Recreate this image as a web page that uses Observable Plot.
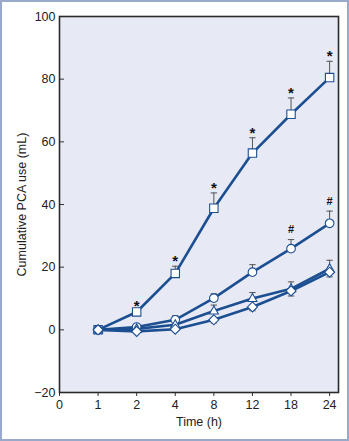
<!DOCTYPE html>
<html>
<head>
<meta charset="utf-8">
<script src="https://cdn.jsdelivr.net/npm/d3@7"></script>
<script src="https://cdn.jsdelivr.net/npm/@observablehq/plot@0.6"></script>
<style>
  html, body { margin: 0; padding: 0; background: #fff; }
  #chart svg { display: block; background: linear-gradient(#ffffff 0%, #f4f6fb 40%, #dde4f2 100%);
    outline: 2px solid #98a9c9; outline-offset: -2px; }
</style>
</head>
<body>
<div id="chart"></div>
<script>
// categories (time points, h) – evenly spaced on the axis
const times = ["0", "1", "2", "4", "8", "12", "18", "24"];
const seriesTimes = ["1", "2", "4", "8", "12", "18", "24"];

// series values (mL)
const squareVals   = [0, 5.7, 18.0, 38.8, 56.4, 68.8, 80.5];
const squareErr    = [0, 0.4, 2.3, 4.9, 4.9, 5.2, 5.2];
const circleVals   = [0, 0.9, 3.2, 10.1, 18.4, 25.9, 34.0];
const circleErr    = [0, 0.3, 1.3, 1.4, 2.4, 2.9, 3.9];
const triangleVals = [0, 0.3, 1.6, 6.0, 10.0, 13.1, 19.5];
const triangleErr  = [0, 0.3, 1.0, 1.9, 1.9, 2.2, 2.7];
const diamondVals  = [0, -0.5, 0.2, 3.2, 7.3, 12.4, 18.4];
const diamondErr   = [0, -0.3, -0.5, -1.0, -1.2, -1.6, -1.5];

// significance marks
const starTimes = ["2", "4", "8", "12", "18", "24"];
const hashTimes = ["18", "24"];

const yTicks = [-20, 0, 20, 40, 60, 80, 100];

const idx = t => times.indexOf(t);

function build(name, vals, errs, symbol) {
  return seriesTimes.map((t, i) => ({series: name, t, xi: idx(t), y: vals[i], err: errs[i], top: vals[i] + errs[i], symbol}));
}
const data = [
  ...build("square", squareVals, squareErr, "square"),
  ...build("circle", circleVals, circleErr, "circle"),
  ...build("triangle", triangleVals, triangleErr, "triangle"),
  ...build("diamond", diamondVals, diamondErr, "diamond")
];
const errData = data.filter(d => d.err !== 0);
const squares = data.filter(d => d.series === "square");
const circles = data.filter(d => d.series === "circle");
const stars = squares.filter(d => starTimes.includes(d.t));
const hashes = circles.filter(d => hashTimes.includes(d.t));

const capSymbol = {draw(ctx, size) { const r = 3.2; ctx.moveTo(-r, 0); ctx.lineTo(r, 0); }};
const diamondSym = {draw(ctx, size) { const r = 5; ctx.moveTo(0, -r); ctx.lineTo(r, 0); ctx.lineTo(0, r); ctx.lineTo(-r, 0); ctx.closePath(); }};
const triSym = {draw(ctx, size) { const r = 5; ctx.moveTo(0, -r); ctx.lineTo(r * 0.9, r * 0.6); ctx.lineTo(-r * 0.9, r * 0.6); ctx.closePath(); }};
const sqSym = {draw(ctx, size) { const r = 4.2; ctx.rect(-r, -r, 2 * r, 2 * r); }};
const circSym = {draw(ctx, size) { ctx.moveTo(4.3, 0); ctx.arc(0, 0, 4.3, 0, 2 * Math.PI); }};
const symMap = {square: sqSym, circle: circSym, triangle: triSym, diamond: diamondSym};

const blue = "#1c4f91";
const font = "Liberation Sans, Arial, Helvetica, sans-serif";

const chart = Plot.plot({
  width: 349,
  height: 441,
  marginLeft: 59,
  marginRight: 11,
  marginTop: 16,
  marginBottom: 49,
  style: {fontFamily: font, fontSize: "12.5px", color: "#222", background: "transparent"},
  x: {domain: [0, 7.23], ticks: times.map((t, i) => i), tickFormat: i => times[i], label: null},
  y: {domain: [-20, 100], ticks: yTicks, label: null},
  marks: [
    Plot.frame({fill: "#e7eaf5", stroke: null}),
    Plot.axisY({ticks: yTicks, tickSize: -5, tickPadding: 9, stroke: "#333", fontSize: 12.5, tickFormat: d => d < 0 ? "\u2212" + Math.abs(d) : d}),
    Plot.axisX({ticks: times.map((t, i) => i), tickFormat: i => times[i], tickSize: 4, tickPadding: 4, stroke: "#333", fontSize: 12.5}),
    Plot.text(["Time (h)"], {frameAnchor: "bottom", dy: 33, fontSize: 12.5, fill: "#222"}),
    Plot.text(["Cumulative PCA use (mL)"], {frameAnchor: "left", textAnchor: "middle", dx: -38, rotate: -90, fontSize: 12.5, fill: "#222"}),
    // error bars
    Plot.ruleX(errData, {x: "xi", y1: "y", y2: "top", stroke: "#555", strokeWidth: 1}),
    Plot.dot(errData, {x: "xi", y: "top", symbol: capSymbol, stroke: "#555", strokeWidth: 1, r: 3}),
    // lines
    Plot.line(data, {x: "xi", y: "y", z: "series", stroke: blue, strokeWidth: 2.6}),
    // markers
    Plot.dot(data, {x: "xi", y: "y", symbol: d => symMap[d.symbol], fill: "white", stroke: blue, strokeWidth: 1.1, r: 4}),
    // significance
    Plot.text(stars, {x: "xi", y: "top", text: () => "*", dy: -5, fontSize: 15, fontWeight: "bold", fill: "#111"}),
    Plot.text(hashes, {x: "xi", y: "top", text: () => "#", dy: -10, fontSize: 11, fontWeight: "bold", fill: "#111"}),
    Plot.frame({stroke: "#2a2a2a", strokeWidth: 1.6})
  ]
});
document.getElementById("chart").append(chart);
</script>
</body>
</html>
